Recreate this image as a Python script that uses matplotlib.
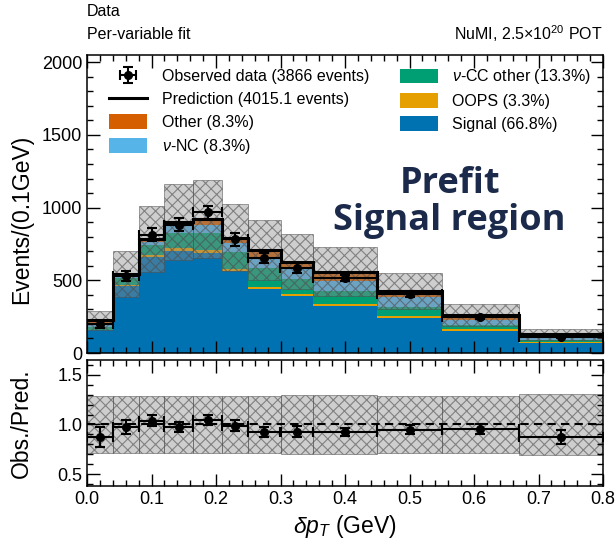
import numpy as np
import matplotlib
matplotlib.use('Agg')
import matplotlib.pyplot as plt
from matplotlib.patches import Patch
from matplotlib.lines import Line2D
from matplotlib.ticker import MultipleLocator, FormatStrFormatter

plt.rcParams['font.family'] = ['Liberation Sans', 'DejaVu Sans']
plt.rcParams['mathtext.fontset'] = 'custom'
plt.rcParams['mathtext.rm'] = 'Liberation Sans'
plt.rcParams['mathtext.it'] = 'Liberation Sans:italic'
plt.rcParams['mathtext.bf'] = 'Liberation Sans:bold'
plt.rcParams['hatch.linewidth'] = 0.8

# ---------------- data ----------------
bin_edges = [0.0, 0.04, 0.08, 0.12, 0.165, 0.21, 0.25, 0.30, 0.35, 0.45, 0.55, 0.67, 0.80]
signal = [155, 460, 658, 705, 690, 565, 440, 392, 322, 238, 151, 72]
oops = [5, 8, 16, 17, 16, 13, 17, 16, 16, 15, 11, 5]
nu_cc_other = [20, 46, 69, 103, 117, 120, 126, 100, 90, 62, 29, 15]
nu_nc = [25, 15, 23, 55, 58, 58, 72, 75, 65, 68, 37, 18]
other = [20, 15, 18, 23, 44, 38, 53, 45, 67, 45, 34, 18]
data = [197, 530, 815, 882, 967, 783, 655, 582, 516, 405, 250, 112]
data_err = [22, 36, 45, 45, 46, 44, 36, 34, 23, 20, 14, 9]
band_rel = [0.29, 0.29, 0.29, 0.29, 0.29, 0.29, 0.29, 0.30, 0.30, 0.29, 0.29, 0.31]

stack_names = ['Signal (66.8%)', 'OOPS (3.3%)', r'$\nu$-CC other (13.3%)', r'$\nu$-NC (8.3%)', 'Other (8.3%)']
stack_values = [signal, oops, nu_cc_other, nu_nc, other]
stack_colors = ['#0072B2', '#E69F00', '#009E73', '#56B4E9', '#D55E00']

edges = np.array(bin_edges)
lefts = edges[:-1]
widths = np.diff(edges)
centers = lefts + widths / 2
pred = np.sum(np.array(stack_values, dtype=float), axis=0)
d = np.array(data, dtype=float)
derr = np.array(data_err, dtype=float)
brel = np.array(band_rel)

fig = plt.figure(figsize=(6.16, 5.43), dpi=100)
ax = fig.add_axes([87/616, 1-353/543, 516/616, 298/543])
rax = fig.add_axes([87/616, 1-486/543, 516/616, 126/543])

band_face = (0.55, 0.55, 0.55, 0.42)
band_edge = (0.3, 0.3, 0.3, 0.6)

# stacked prediction
bottom = np.zeros(len(lefts))
handles = {}
for name, vals, col in zip(stack_names, stack_values, stack_colors):
    v = np.array(vals, dtype=float)
    ax.bar(lefts, v, width=widths, bottom=bottom, align='edge', color=col, linewidth=0, zorder=1)
    bottom += v
    handles[name] = Patch(facecolor=col, edgecolor='none')

# uncertainty band
ax.bar(lefts, 2 * pred * brel, width=widths, bottom=pred * (1 - brel), align='edge',
       facecolor=band_face, edgecolor=band_edge, hatch='xxx', linewidth=0.6, zorder=2)
ax.stairs(pred, edges, baseline=None, color='black', linewidth=2.2, zorder=3)
eb = ax.errorbar(centers, d, yerr=derr, xerr=widths / 2, fmt='o', color='black', ms=5.5,
                 capsize=3.5, elinewidth=1.5, capthick=1.5, zorder=4)

ax.set_xlim(0, 0.8)
ax.set_ylim(0, 2050)
ax.set_ylabel('Events/(0.1GeV)', fontsize=16.5)
ax.yaxis.set_major_locator(MultipleLocator(500))
ax.yaxis.set_minor_locator(MultipleLocator(100))
ax.xaxis.set_major_locator(MultipleLocator(0.1))
ax.xaxis.set_minor_locator(MultipleLocator(0.02))
ax.tick_params(labelbottom=False)

# ratio panel
ratio = d / pred
rerr = derr / pred
rax.bar(lefts, 2 * brel, width=widths, bottom=1 - brel, align='edge',
        facecolor=band_face, edgecolor=band_edge, hatch='xxx', linewidth=0.6, zorder=1)
rax.axhline(1.0, color='black', linestyle=(0, (4, 2.5)), linewidth=1.5, zorder=2)
rax.errorbar(centers, ratio, yerr=rerr, xerr=widths / 2, fmt='o', color='black', ms=5.5,
             capsize=3.5, elinewidth=1.5, capthick=1.5, zorder=3)
rax.set_xlim(0, 0.8)
rax.set_ylim(0.38, 1.65)
rax.yaxis.set_major_locator(MultipleLocator(0.5))
rax.yaxis.set_minor_locator(MultipleLocator(0.1))
rax.xaxis.set_major_locator(MultipleLocator(0.1))
rax.xaxis.set_minor_locator(MultipleLocator(0.02))
rax.set_ylabel('Obs./Pred.', fontsize=16.5)
rax.set_xlabel(r'$\delta p_T$ (GeV)', fontsize=16.5)
rax.yaxis.set_major_formatter(FormatStrFormatter('%.1f'))
rax.xaxis.set_major_formatter(FormatStrFormatter('%.1f'))

for a in (ax, rax):
    a.tick_params(which='both', direction='in', top=True, right=True, labelsize=13, width=1.0)
    a.tick_params(which='major', length=9)
    a.tick_params(which='minor', length=4)
    for s in a.spines.values():
        s.set_linewidth(1.1)
ax.yaxis.set_label_coords(-0.105, 0.45)
rax.yaxis.set_label_coords(-0.105, 0.5)

# legend
leg_handles = [eb, Line2D([], [], color='black', lw=2.2), handles['Other (8.3%)'], handles[r'$\nu$-NC (8.3%)'],
               handles[r'$\nu$-CC other (13.3%)'], handles['OOPS (3.3%)'], handles['Signal (66.8%)']]
leg_labels = ['Observed data (3866 events)', 'Prediction (4015.1 events)', 'Other (8.3%)', r'$\nu$-NC (8.3%)',
              r'$\nu$-CC other (13.3%)', 'OOPS (3.3%)', 'Signal (66.8%)']
ax.legend(leg_handles, leg_labels, ncol=2, loc='upper left', bbox_to_anchor=(0.015, 1.007),
          frameon=False, fontsize=11.5, handlelength=2.4, handleheight=1.0, handletextpad=0.9,
          columnspacing=1.9, labelspacing=0.45)

# header texts
fig.text(87/616, 1-12/543, 'Data', fontsize=11.5, va='center', ha='left')
fig.text(87/616, 1-34/543, 'Per-variable fit', fontsize=11.5, va='center', ha='left')
fig.text(603/616, 1-34/543, 'NuMI, 2.5×10$^{20}$ POT', fontsize=11.5, va='center', ha='right')

ax.text(0.703, 0.505, 'Prefit\nSignal region', transform=ax.transAxes, ha='center', va='center',
        fontsize=26, fontweight='bold', color='#1b2a4a', family=['Open Sans', 'DejaVu Sans'], linespacing=1.05)

fig.savefig('out.png', dpi=100)
